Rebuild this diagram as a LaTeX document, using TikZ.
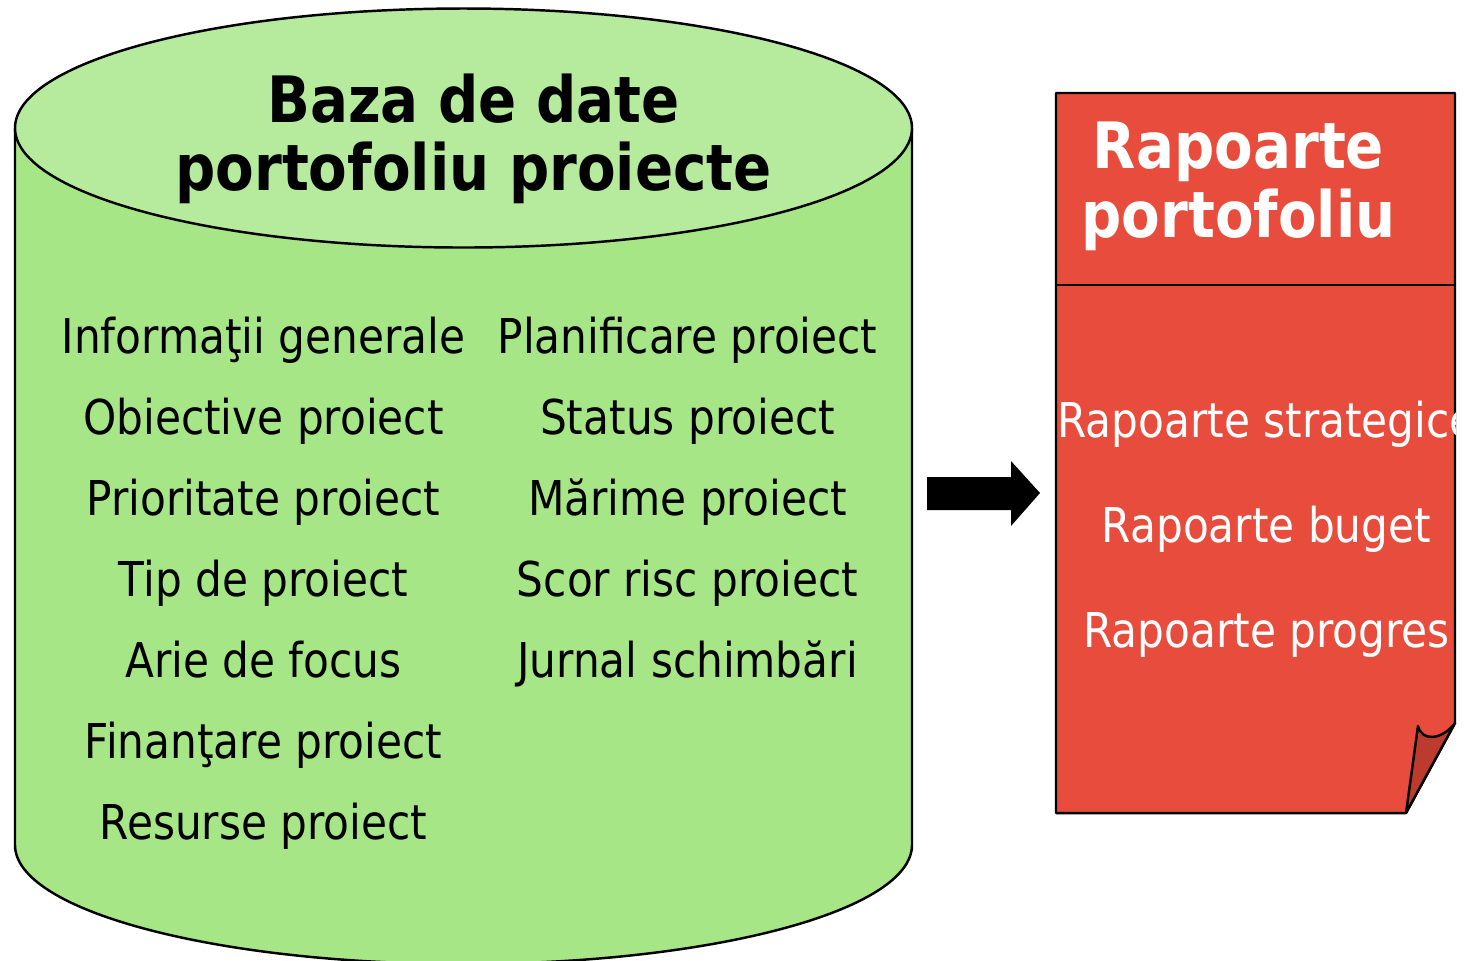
\documentclass[tikz,border=0pt]{standalone}
\usepackage{fontspec}
\setmainfont{DejaVu Sans}[FakeStretch=0.88]
\definecolor{dbtop}{HTML}{B6EB9D}
\definecolor{dbbody}{HTML}{A6E686}
\definecolor{repred}{HTML}{E74C3C}
\definecolor{repfold}{HTML}{BC3A2E}
\tikzset{
  item/.style={inner sep=0pt, anchor=base, font=\fontsize{13.66pt}{16pt}\selectfont},
  heading/.style={inner sep=0pt, anchor=base, font=\fontsize{18.2pt}{21pt}\selectfont\bfseries},
  outline/.style={line width=0.7pt, line join=round},
}
\begin{document}
\begin{tikzpicture}
 \useasboundingbox (0,0) rectangle (14.69,-9.60);

 %database cylinder
 \fill[dbbody] (0.15,-1.28) -- (0.15,-8.45) arc[start angle=180, end angle=360, x radius=4.485, y radius=1.19] -- (9.12,-1.28) -- cycle;
 \draw[outline] (0.15,-1.28) -- (0.15,-8.45) arc[start angle=180, end angle=360, x radius=4.485, y radius=1.19] -- (9.12,-1.28);
 \filldraw[outline, fill=dbtop] (4.635,-1.28) ellipse [x radius=4.485, y radius=1.195];

 \node[heading] (DB1) at (4.735,-1.22) {Baza de date};
 \node[heading] (DB2) at (4.735,-1.90) {portofoliu proiecte};

 %left column
 \foreach \i/\txt in {1/Informaţii generale, 2/Obiective proiect, 3/Prioritate proiect, 4/Tip de proiect, 5/Arie de focus, 6/Finanţare proiect, 7/Resurse proiect} {
    \node[item] (L\i) at (2.635, {-3.53-0.81*(\i-1)}) {\txt};
 }

 %right column
 \foreach \i/\txt in {1/Planificare proiect, 2/Status proiect, 3/Mărime proiect, 4/Scor risc proiect, 5/Jurnal schimbări} {
    \node[item] (R\i) at (6.875, {-3.53-0.81*(\i-1)}) {\txt};
 }

 %arrow
 \fill (9.27,-4.77) -- (10.11,-4.77) -- (10.11,-4.61) -- (10.40,-4.93) -- (10.11,-5.26) -- (10.11,-5.10) -- (9.27,-5.10) -- cycle;

 %report page
 \filldraw[outline, fill=repred] (10.56,-0.93) -- (14.55,-0.93) -- (14.55,-7.23) -- (14.06,-8.13) -- (10.56,-8.13) -- cycle;
 \draw[outline] (10.56,-2.85) -- (14.55,-2.85);
 %folded corner
 \filldraw[outline, fill=repfold] (14.55,-7.23) .. controls (14.42,-7.40) and (14.22,-7.42) .. (14.18,-7.26) -- (14.06,-8.13) -- cycle;

 \node[heading, white] (RP1) at (12.385,-1.68) {Rapoarte};
 \node[heading, white] (RP2) at (12.385,-2.37) {portofoliu};

 \begin{scope}
  \clip (10.56,-0.93) rectangle (14.55,-8.13);
  \foreach \i/\txt/\y in {1/Rapoarte strategice/-4.37, 2/Rapoarte buget/-5.42, 3/Rapoarte progres/-6.47} {
     \node[item, white] (S\i) at (12.665, \y) {\txt};
  }
 \end{scope}

\end{tikzpicture}
\end{document}
